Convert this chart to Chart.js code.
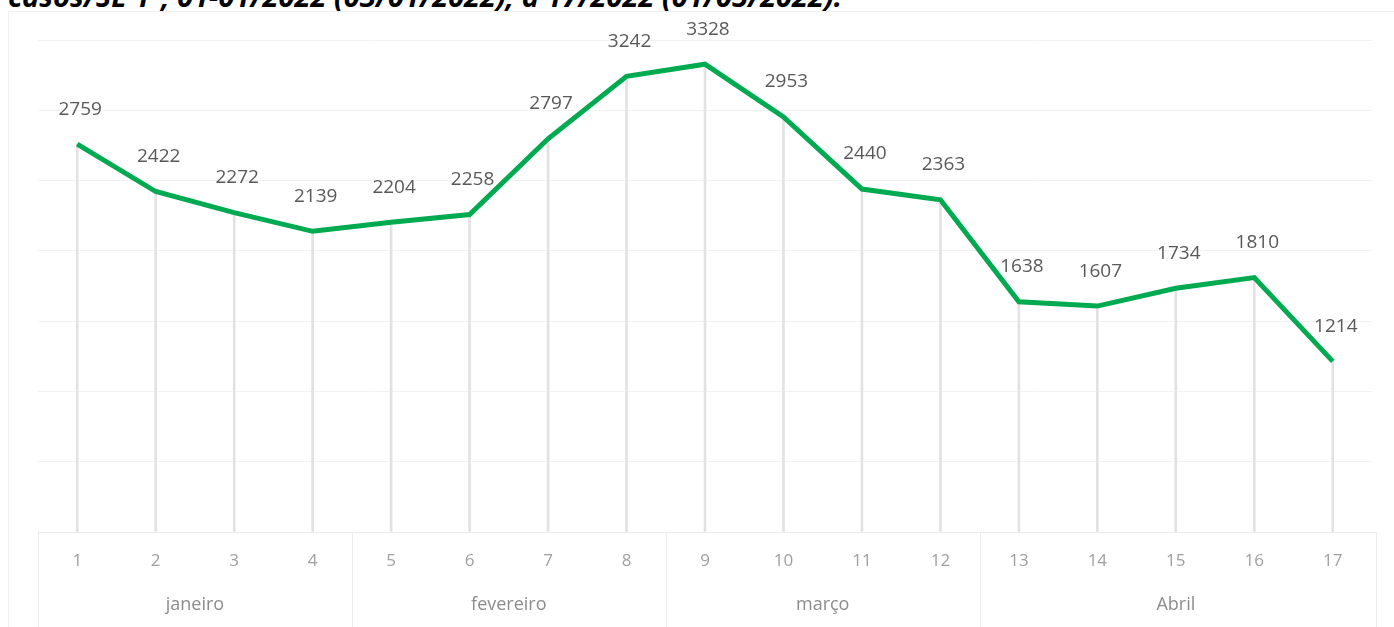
<!DOCTYPE html>
<html>
<head>
<meta charset="utf-8">
<script src="https://cdn.jsdelivr.net/npm/chart.js@4.4.1/dist/chart.umd.min.js"></script>
<style>
  body { margin: 0; background: #fff; width: 1394px; height: 627px; overflow: hidden; position: relative; }
  #title { position: absolute; left: 8px; top: -19px; font: italic bold 29px "Open Sans", sans-serif; color: #000; white-space: nowrap; line-height: 29px; }
  #frame { position: absolute; left: 8px; top: 11px; width: 1400px; height: 640px; border: 1px solid #f0f0f0; }
  #wrap { position: absolute; left: 0; top: 0; width: 1394px; height: 627px; }
</style>
</head>
<body>
<div id="title">casos/SE 1ª, 01-01/2022 (03/01/2022), a 17/2022 (01/05/2022).</div>
<div id="frame"></div>
<div id="wrap"><canvas id="chart1"></canvas></div>
<script>
// semanas epidemiologicas
const semanas = ['1','2','3','4','5','6','7','8','9','10','11','12','13','14','15','16','17'];
const casos = [2759, 2422, 2272, 2139, 2204, 2258, 2797, 3242, 3328, 2953, 2440, 2363, 1638, 1607, 1734, 1810, 1214];
const meses = ['janeiro', 'fevereiro', 'março', 'Abril'];
const semanasPorMes = [4, 4, 4, 5];

const ctx1 = document.getElementById('chart1');

// rotulos de valor acima de cada ponto
const rotulos = {
  id: 'rotulos',
  afterDatasetsDraw(chart) {
    const c = chart.ctx;
    const meta = chart.getDatasetMeta(0);
    c.save();
    c.font = '19px "Open Sans", sans-serif';
    c.fillStyle = '#595959';
    c.textAlign = 'center';
    c.textBaseline = 'middle';
    meta.data.forEach((p, i) => {
      c.fillText(casos[i], p.x + 3, p.y - 35);
    });
    c.restore();
  }
};

// eixo em forma de tabela: semanas e meses
const tabelaEixo = {
  id: 'tabelaEixo',
  afterDraw(chart) {
    const c = chart.ctx;
    const x = chart.scales.x;
    const area = chart.chartArea;
    const half = (x.getPixelForValue(1) - x.getPixelForValue(0)) / 2;
    const y0 = area.bottom;
    const yEnd = chart.height;
    c.save();
    c.strokeStyle = '#ececec';
    c.lineWidth = 1;
    c.beginPath();
    c.moveTo(area.left, y0 + 0.5);
    c.lineTo(area.right + 4, y0 + 0.5);
    c.stroke();

    c.font = '17px "Open Sans", sans-serif';
    c.fillStyle = '#a0a0a0';
    c.textAlign = 'center';
    c.textBaseline = 'middle';
    semanas.forEach((s, i) => {
      c.fillText(s, x.getPixelForValue(i), y0 + 29);
    });

    let start = 0;
    const bordas = [x.getPixelForValue(0) - half];
    c.font = '18px "Open Sans", sans-serif';
    semanasPorMes.forEach((n, k) => {
      const left = x.getPixelForValue(start) - half;
      const right = x.getPixelForValue(start + n - 1) + half;
      bordas.push(right);
      c.fillStyle = '#8c8c8c';
      c.fillText(meses[k], (left + right) / 2, y0 + 73);
      start += n;
    });
    bordas.forEach((bx, k) => {
      const px = Math.round(bx) + 0.5 + (k === bordas.length - 1 ? 4 : 0);
      c.beginPath();
      c.moveTo(px, y0);
      c.lineTo(px, yEnd);
      c.stroke();
    });
    c.restore();
  }
};

myChart1 = new Chart(ctx1, {
  data: {
    labels: semanas,
    datasets: [{
      type: 'line',
      label: 'casos',
      data: casos,
      borderColor: '#00aa50',
      borderWidth: 5,
      pointRadius: 0,
      tension: 0,
      order: 0
    }, {
      type: 'bar',
      label: 'linhas',
      data: casos,
      backgroundColor: '#e2e2e2',
      barThickness: 2,
      order: 1
    }]
  },
  options: {
    responsive: true,
    maintainAspectRatio: false,
    animation: false,
    layout: {
      padding: { left: 38, right: 22, top: 40, bottom: 95 }
    },
    plugins: {
      legend: { display: false },
      tooltip: { enabled: false }
    },
    scales: {
      x: {
        display: false,
        offset: true
      },
      y: {
        min: 0,
        max: 3500,
        ticks: { stepSize: 500, display: false },
        grid: { color: '#f2f2f2', drawTicks: false },
        border: { display: false },
        afterFit: s => { s.width = 0; }
      }
    }
  },
  plugins: [rotulos, tabelaEixo]
});
</script>
</body>
</html>
